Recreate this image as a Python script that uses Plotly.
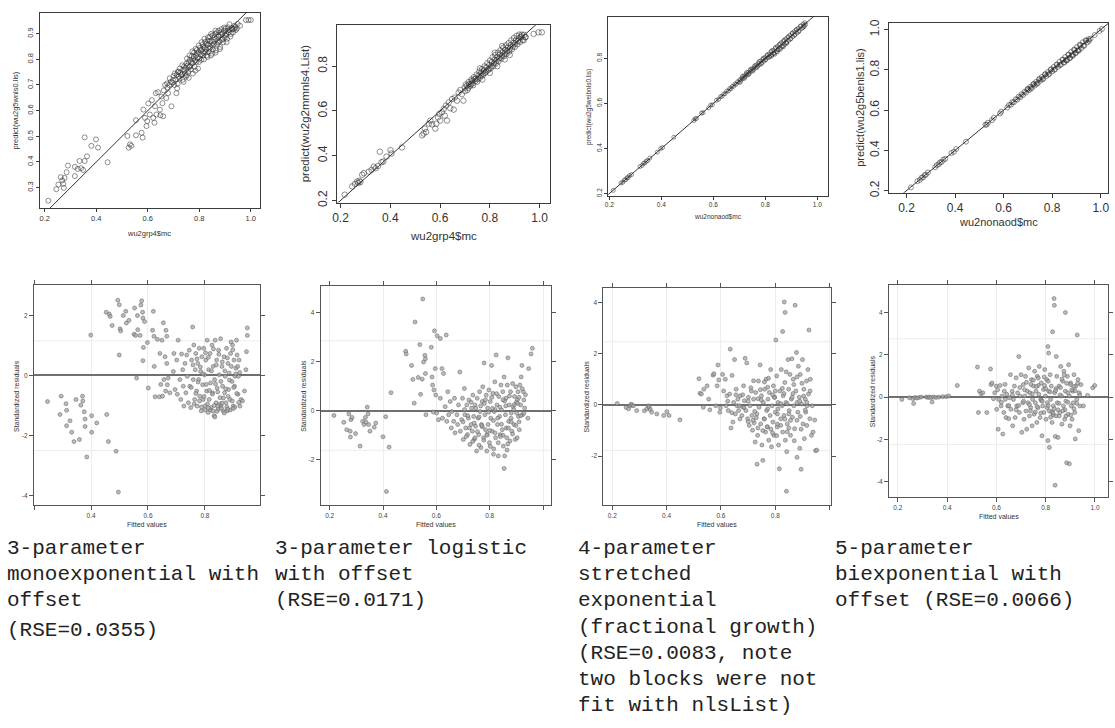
import plotly.graph_objects as go

# ---------------- observed vs predicted (top row) ----------------
p1_obs = [0.214, 0.245, 0.253, 0.262, 0.268, 0.272, 0.274, 0.277, 0.285, 0.290,
          0.317, 0.317, 0.328, 0.335, 0.341, 0.349, 0.355, 0.355, 0.364, 0.381,
          0.399, 0.407, 0.444,
          0.521, 0.526, 0.531, 0.536, 0.554, 0.554, 0.576, 0.580, 0.583, 0.589,
          0.595, 0.598, 0.602, 0.608, 0.616, 0.621, 0.626, 0.628, 0.631, 0.634,
          0.640, 0.647, 0.649, 0.653, 0.657, 0.660, 0.662, 0.667, 0.672, 0.675,
          0.679, 0.685, 0.692, 0.698, 0.705, 0.711, 0.714, 0.717, 0.724, 0.730,
          0.734, 0.739, 0.743, 0.750, 0.752, 0.757, 0.762, 0.765, 0.769, 0.773,
          0.775, 0.779, 0.782, 0.786, 0.788, 0.792, 0.795, 0.798, 0.801, 0.806,
          0.809, 0.814, 0.816, 0.820, 0.824, 0.827, 0.832, 0.834, 0.839, 0.842,
          0.846, 0.850, 0.852, 0.859, 0.863, 0.865, 0.872, 0.875, 0.881, 0.884,
          0.891, 0.897, 0.901, 0.906, 0.910, 0.917, 0.923, 0.929, 0.936, 0.942,
          0.949, 0.958, 0.981, 0.991, 1.000,
          0.720, 0.726, 0.733, 0.737, 0.741, 0.746, 0.748, 0.754, 0.758, 0.761,
          0.764, 0.767, 0.771, 0.774, 0.777, 0.780, 0.783, 0.785, 0.787, 0.790,
          0.793, 0.796, 0.799, 0.803, 0.805, 0.808, 0.811, 0.813, 0.816, 0.818,
          0.821, 0.823, 0.826, 0.829, 0.831, 0.833, 0.836, 0.838, 0.841, 0.843,
          0.845, 0.848, 0.851, 0.853, 0.856, 0.858, 0.861, 0.863, 0.866, 0.868,
          0.870, 0.873, 0.876, 0.878, 0.880, 0.883, 0.886, 0.888, 0.890, 0.893,
          0.896, 0.899, 0.902, 0.905, 0.908, 0.911, 0.914, 0.918, 0.921, 0.926,
          0.931, 0.935, 0.940, 0.946,
          0.676, 0.683, 0.689, 0.695, 0.700, 0.703, 0.708, 0.712, 0.716, 0.719,
          0.723, 0.735, 0.744, 0.752, 0.759]
p1_pred = [0.249, 0.294, 0.312, 0.341, 0.328, 0.315, 0.299, 0.338, 0.360, 0.386,
           0.345, 0.381, 0.373, 0.404, 0.376, 0.369, 0.496, 0.404, 0.422, 0.463,
           0.488, 0.456, 0.399,
           0.501, 0.456, 0.469, 0.463, 0.563, 0.504, 0.514, 0.495, 0.604, 0.572,
           0.540, 0.559, 0.628, 0.585, 0.641, 0.572, 0.553, 0.617, 0.668, 0.585,
           0.672, 0.604, 0.582, 0.655, 0.629, 0.578, 0.679, 0.700, 0.649, 0.706,
           0.668, 0.726, 0.617, 0.720, 0.745, 0.668, 0.687, 0.751, 0.764, 0.738,
           0.777, 0.712, 0.758, 0.783, 0.803, 0.751, 0.815, 0.773, 0.790, 0.831,
           0.745, 0.810, 0.771, 0.841, 0.790, 0.822, 0.764, 0.854, 0.803, 0.835,
           0.867, 0.815, 0.848, 0.880, 0.828, 0.861, 0.809, 0.886, 0.841, 0.871,
           0.899, 0.822, 0.854, 0.886, 0.912, 0.835, 0.867, 0.893, 0.848, 0.905,
           0.880, 0.924, 0.893, 0.867, 0.912, 0.937, 0.899, 0.918, 0.931, 0.914,
           0.938, 0.931, 0.953, 0.953, 0.953,
           0.733, 0.748, 0.741, 0.760, 0.772, 0.767, 0.733, 0.776, 0.790, 0.770,
           0.798, 0.760, 0.812, 0.785, 0.801, 0.827, 0.795, 0.756, 0.815, 0.836,
           0.806, 0.828, 0.790, 0.845, 0.820, 0.798, 0.838, 0.858, 0.826, 0.800,
           0.846, 0.868, 0.838, 0.815, 0.856, 0.874, 0.829, 0.860, 0.888, 0.846,
           0.815, 0.870, 0.893, 0.838, 0.876, 0.860, 0.899, 0.826, 0.880, 0.905,
           0.858, 0.889, 0.912, 0.870, 0.840, 0.896, 0.918, 0.876, 0.900, 0.866,
           0.912, 0.885, 0.920, 0.899, 0.880, 0.925, 0.905, 0.915, 0.889, 0.922,
           0.905, 0.918, 0.925, 0.920,
           0.690, 0.700, 0.712, 0.710, 0.735, 0.700, 0.722, 0.740, 0.705, 0.752,
           0.725, 0.720, 0.745, 0.738, 0.728]

p2_obs = [0.217, 0.247, 0.258, 0.267, 0.271, 0.276, 0.280, 0.287, 0.294, 0.314,
          0.325, 0.334, 0.341, 0.351, 0.358, 0.365, 0.372, 0.385, 0.401, 0.405,
          0.447, 0.528, 0.534, 0.539, 0.544, 0.555, 0.561, 0.568, 0.581, 0.585,
          0.592, 0.597, 0.601, 0.608, 0.615, 0.619, 0.624, 0.628, 0.635, 0.641,
          0.648, 0.655, 0.659, 0.668, 0.675, 0.682, 0.688, 0.694, 0.699, 0.704,
          0.710, 0.715, 0.722, 0.726, 0.731, 0.736, 0.742, 0.747, 0.752, 0.758,
          0.763, 0.769, 0.774, 0.779, 0.785, 0.790, 0.795, 0.801, 0.806, 0.811,
          0.817, 0.822, 0.827, 0.833, 0.838, 0.843, 0.849, 0.854, 0.860, 0.865,
          0.870, 0.876, 0.881, 0.886, 0.892, 0.897, 0.902, 0.908, 0.913, 0.918,
          0.924, 0.929, 0.936, 0.942, 0.976, 0.996, 1.009,
          0.701, 0.708, 0.713, 0.717, 0.724, 0.728, 0.733, 0.738, 0.744, 0.749,
          0.755, 0.760, 0.766, 0.771, 0.776, 0.781, 0.787, 0.792, 0.798, 0.803,
          0.808, 0.814, 0.819, 0.824, 0.830, 0.835, 0.840, 0.846, 0.851, 0.857,
          0.862, 0.867, 0.873, 0.878, 0.884, 0.889, 0.895, 0.900, 0.905, 0.911,
          0.916, 0.921, 0.927, 0.932, 0.938, 0.944, 0.770, 0.800, 0.830, 0.860,
          0.880, 0.760, 0.820, 0.850]
p2_pred = [0.226, 0.263, 0.274, 0.285, 0.278, 0.288, 0.282, 0.315, 0.322, 0.329,
           0.337, 0.351, 0.344, 0.354, 0.418, 0.371, 0.374, 0.396, 0.425, 0.410,
           0.437, 0.491, 0.499, 0.521, 0.506, 0.543, 0.557, 0.540, 0.521, 0.543,
           0.571, 0.587, 0.557, 0.594, 0.609, 0.579, 0.624, 0.557, 0.638, 0.612,
           0.653, 0.606, 0.660, 0.646, 0.682, 0.694, 0.675, 0.646, 0.704, 0.718,
           0.694, 0.729, 0.712, 0.740, 0.724, 0.751, 0.734, 0.762, 0.743, 0.776,
           0.757, 0.787, 0.766, 0.799, 0.776, 0.813, 0.787, 0.825, 0.799, 0.840,
           0.813, 0.850, 0.825, 0.860, 0.835, 0.871, 0.846, 0.882, 0.857, 0.893,
           0.868, 0.903, 0.879, 0.915, 0.888, 0.926, 0.900, 0.935, 0.912, 0.941,
           0.929, 0.941, 0.915, 0.929, 0.944, 0.951, 0.951,
           0.689, 0.712, 0.703, 0.720, 0.719, 0.733, 0.715, 0.742, 0.745, 0.731,
           0.758, 0.748, 0.771, 0.759, 0.782, 0.770, 0.795, 0.781, 0.806, 0.790,
           0.818, 0.800, 0.829, 0.812, 0.841, 0.822, 0.852, 0.835, 0.862, 0.845,
           0.873, 0.855, 0.884, 0.866, 0.893, 0.875, 0.904, 0.886, 0.915, 0.898,
           0.925, 0.908, 0.933, 0.918, 0.940, 0.930, 0.740, 0.770, 0.800, 0.830,
           0.850, 0.790, 0.860, 0.890]

p3_obs = [0.215, 0.245, 0.252, 0.258, 0.263, 0.268, 0.272, 0.278, 0.285, 0.318,
          0.326, 0.332, 0.337, 0.342, 0.348, 0.356, 0.385, 0.398, 0.405, 0.448,
          0.525, 0.530, 0.535, 0.555, 0.560, 0.582, 0.590, 0.596, 0.612, 0.620,
          0.628, 0.633, 0.640, 0.645, 0.652, 0.658, 0.663, 0.668, 0.672, 0.678,
          0.683, 0.688, 0.693, 0.698, 0.702, 0.706, 0.710, 0.714, 0.718, 0.722,
          0.726, 0.730, 0.734, 0.738, 0.742, 0.746, 0.750, 0.754, 0.758, 0.762,
          0.766, 0.770, 0.774, 0.778, 0.782, 0.786, 0.790, 0.794, 0.798, 0.802,
          0.806, 0.810, 0.814, 0.818, 0.822, 0.826, 0.830, 0.834, 0.838, 0.842,
          0.846, 0.850, 0.854, 0.858, 0.862, 0.866, 0.870, 0.874, 0.878, 0.882,
          0.886, 0.890, 0.894, 0.898, 0.902, 0.906, 0.910, 0.914, 0.918, 0.922,
          0.926, 0.930, 0.935, 0.940, 0.945, 0.950,
          0.704, 0.712, 0.720, 0.728, 0.736, 0.744, 0.752, 0.760, 0.768, 0.776,
          0.784, 0.792, 0.800, 0.808, 0.816, 0.824, 0.832, 0.840, 0.848, 0.856,
          0.864, 0.872, 0.880, 0.888, 0.896, 0.904, 0.912, 0.920, 0.928, 0.936,
          0.944, 0.952, 0.955, 0.948, 0.824, 0.836, 0.846, 0.858, 0.870, 0.882]
p3_pred = [0.214, 0.247, 0.250, 0.260, 0.262, 0.270, 0.271, 0.280, 0.284, 0.320,
           0.325, 0.334, 0.336, 0.344, 0.347, 0.358, 0.384, 0.400, 0.404, 0.450,
           0.524, 0.532, 0.533, 0.557, 0.559, 0.580, 0.592, 0.594, 0.614, 0.618,
           0.630, 0.631, 0.642, 0.643, 0.655, 0.655, 0.666, 0.665, 0.675, 0.676,
           0.686, 0.685, 0.696, 0.694, 0.705, 0.703, 0.713, 0.710, 0.722, 0.718,
           0.730, 0.726, 0.738, 0.733, 0.747, 0.742, 0.754, 0.750, 0.763, 0.757,
           0.771, 0.765, 0.779, 0.772, 0.788, 0.779, 0.796, 0.787, 0.803, 0.795,
           0.812, 0.803, 0.819, 0.810, 0.829, 0.816, 0.836, 0.823, 0.845, 0.830,
           0.853, 0.838, 0.861, 0.846, 0.870, 0.853, 0.877, 0.862, 0.886, 0.870,
           0.893, 0.879, 0.902, 0.887, 0.910, 0.896, 0.918, 0.905, 0.925, 0.913,
           0.933, 0.922, 0.942, 0.932, 0.952, 0.945,
           0.694, 0.720, 0.712, 0.737, 0.728, 0.752, 0.744, 0.768, 0.760, 0.786,
           0.776, 0.801, 0.792, 0.816, 0.806, 0.833, 0.822, 0.848, 0.838, 0.864,
           0.853, 0.880, 0.870, 0.896, 0.885, 0.912, 0.902, 0.928, 0.918, 0.944,
           0.936, 0.958, 0.950, 0.940, 0.810, 0.818, 0.828, 0.840, 0.852, 0.866]

p4_obs = [0.218, 0.245, 0.255, 0.262, 0.268, 0.275, 0.280, 0.288, 0.318, 0.325,
          0.333, 0.338, 0.345, 0.352, 0.360, 0.385, 0.395, 0.405, 0.445, 0.525,
          0.530, 0.535, 0.552, 0.560, 0.585, 0.590, 0.615, 0.622, 0.630, 0.636,
          0.642, 0.650, 0.656, 0.662, 0.668, 0.674, 0.680, 0.686, 0.692, 0.698,
          0.704, 0.710, 0.716, 0.722, 0.728, 0.734, 0.740, 0.746, 0.752, 0.758,
          0.764, 0.770, 0.776, 0.782, 0.788, 0.794, 0.800, 0.806, 0.812, 0.818,
          0.824, 0.830, 0.836, 0.842, 0.848, 0.854, 0.860, 0.866, 0.872, 0.878,
          0.884, 0.890, 0.896, 0.902, 0.908, 0.914, 0.920, 0.926, 0.932, 0.938,
          0.944, 0.950, 0.958, 0.975, 0.995, 1.005,
          0.700, 0.712, 0.724, 0.736, 0.748, 0.760, 0.772, 0.784, 0.796, 0.808,
          0.820, 0.832, 0.844, 0.856, 0.868, 0.880, 0.892, 0.904, 0.916, 0.928,
          0.940, 0.952, 0.850, 0.862, 0.874, 0.886, 0.898, 0.910]
p4_pred = [0.216, 0.247, 0.253, 0.264, 0.266, 0.277, 0.279, 0.290, 0.316, 0.327,
           0.331, 0.340, 0.343, 0.354, 0.358, 0.387, 0.393, 0.407, 0.443, 0.527,
           0.528, 0.537, 0.550, 0.562, 0.583, 0.592, 0.613, 0.625, 0.627, 0.640,
           0.639, 0.654, 0.652, 0.667, 0.664, 0.679, 0.675, 0.691, 0.687, 0.703,
           0.699, 0.716, 0.711, 0.728, 0.722, 0.740, 0.734, 0.753, 0.746, 0.765,
           0.757, 0.777, 0.769, 0.789, 0.780, 0.801, 0.792, 0.814, 0.803, 0.826,
           0.815, 0.839, 0.826, 0.851, 0.836, 0.864, 0.846, 0.876, 0.858, 0.889,
           0.870, 0.901, 0.882, 0.913, 0.895, 0.925, 0.908, 0.937, 0.920, 0.946,
           0.936, 0.952, 0.955, 0.973, 0.993, 1.003,
           0.706, 0.706, 0.730, 0.730, 0.755, 0.753, 0.779, 0.777, 0.803, 0.800,
           0.826, 0.824, 0.850, 0.848, 0.875, 0.872, 0.898, 0.896, 0.922, 0.920,
           0.946, 0.944, 0.838, 0.850, 0.860, 0.874, 0.886, 0.898]

# 1:1 reference line (observed == predicted)
identity_line = [0.0, 1.2]

# ---------------- standardized residuals vs fitted (bottom row) ----------------
p5_fit = [0.247, 0.295, 0.291, 0.312, 0.314, 0.314, 0.326, 0.332, 0.340, 0.347,
          0.359, 0.364, 0.370, 0.371, 0.376, 0.379, 0.379, 0.385, 0.399, 0.402,
          0.402, 0.420, 0.453, 0.455, 0.461, 0.464, 0.467, 0.474, 0.488, 0.494,
          0.496, 0.499, 0.499, 0.502, 0.504, 0.513, 0.522, 0.524, 0.533, 0.551,
          0.553, 0.556, 0.560, 0.563, 0.564, 0.572, 0.575, 0.578, 0.581, 0.582,
          0.582, 0.584, 0.588, 0.598, 0.601, 0.616, 0.619, 0.621, 0.622, 0.625,
          0.633, 0.640, 0.642, 0.645, 0.649, 0.651, 0.654, 0.656, 0.660, 0.662,
          0.663, 0.666, 0.666, 0.668, 0.671, 0.677, 0.689, 0.691, 0.695, 0.701,
          0.703, 0.706, 0.712, 0.715, 0.718, 0.722, 0.724, 0.726, 0.730, 0.733,
          0.736, 0.738, 0.742, 0.745, 0.747, 0.750, 0.753, 0.757, 0.759, 0.761,
          0.764, 0.766, 0.768, 0.771, 0.773, 0.775, 0.778, 0.780, 0.782, 0.785,
          0.787, 0.789, 0.792, 0.794, 0.796, 0.799, 0.801, 0.803, 0.806, 0.808,
          0.811, 0.813, 0.815, 0.818, 0.820, 0.822, 0.825, 0.827, 0.829, 0.832,
          0.834, 0.836, 0.839, 0.841, 0.843, 0.846, 0.848, 0.850, 0.853, 0.855,
          0.857, 0.860, 0.862, 0.864, 0.867, 0.869, 0.871, 0.874, 0.876, 0.878,
          0.881, 0.883, 0.885, 0.888, 0.890, 0.892, 0.895, 0.897, 0.899, 0.902,
          0.904, 0.906, 0.909, 0.911, 0.913, 0.916, 0.918, 0.920, 0.923, 0.927,
          0.932, 0.939, 0.944, 0.946, 0.949, 0.949,
          0.752, 0.758, 0.762, 0.768, 0.772, 0.776, 0.781, 0.784, 0.788, 0.793,
          0.797, 0.802, 0.805, 0.809, 0.812, 0.816, 0.819, 0.823, 0.826, 0.830,
          0.833, 0.837, 0.840, 0.842, 0.845, 0.849, 0.852, 0.856, 0.858, 0.861,
          0.865, 0.868, 0.870, 0.873, 0.877, 0.879, 0.882, 0.886, 0.889, 0.893,
          0.896, 0.898, 0.901, 0.905, 0.908, 0.912, 0.915, 0.919, 0.922, 0.835,
          0.845, 0.860, 0.880, 0.900, 0.828, 0.812, 0.800]
p5_res = [-0.87, -0.69, -1.30, -0.94, -1.16, -1.67, -1.51, -1.89, -2.20, -0.80,
          -2.13, -0.99, -0.69, -0.85, -1.21, -1.45, -1.70, -2.71, 1.34, -1.34,
          -1.89, -1.58, 2.10, -1.30, -2.20, 2.04, 1.96, 1.66, -2.52, 2.50,
          -3.88, 2.35, 0.68, 1.55, 1.48, 1.99, 2.13, 1.74, 1.83, 1.37,
          2.24, 1.33, -0.09, 1.99, 1.52, 1.33, 2.34, 2.48, 2.10, 1.91,
          0.49, 0.93, 1.79, 1.09, -0.42, 1.50, 2.13, 1.30, 0.30, -0.71,
          1.20, -0.71, 0.73, -0.30, 1.17, -0.69, 1.75, -0.14, 0.62, -0.52,
          1.50, 1.30, 0.40, -0.31, -0.09, -0.58, 0.13, 0.73, -0.47, 0.51,
          -0.63, 1.17, -0.14, -0.80, 0.71, 0.19, -0.36, -1.02, 0.40, -0.58,
          0.68, -0.03, -0.91, 0.84, -0.36, -1.07, 0.51, 1.61, -0.14, 1.01,
          -0.80, 0.19, 0.73, -0.52, -1.02, 0.40, -0.14, 0.90, -0.69, 0.13,
          -1.18, 0.62, -0.31, -0.80, 0.90, 0.02, -1.02, 0.51, -0.52, 1.17,
          -1.23, 0.19, -0.80, 0.73, -0.25, -1.07, 1.01, -0.58, 0.30, -1.34,
          -0.14, 1.17, -0.91, 0.51, -0.42, -1.13, 0.84, 0.02, -0.74, 1.22,
          -1.02, 0.30, -0.36, -1.18, 0.62, -0.58, -0.03, -0.91, 0.90, -1.18,
          0.40, -0.47, 0.08, -0.80, 0.73, 1.11, -0.20, 1.01, -1.02, 0.51,
          -0.36, -0.03, 0.24, 1.17, 0.68, -0.63, -0.03, 0.51, -1.02, -0.80,
          -0.85, -0.52, 0.19, 0.79, 1.58, 1.33,
          -0.40, 0.35, -0.95, -0.60, 0.55, -0.22, -0.85, 0.28, -1.05, 0.05,
          -0.70, 0.75, -0.30, -0.95, 0.60, -0.50, -1.15, 0.15, -0.62, 0.88,
          -1.00, -0.28, 0.35, -1.20, -0.55, 0.70, -0.95, -0.20, -1.10, 0.45,
          -0.75, -1.25, 0.15, -0.45, -1.05, 0.58, -0.70, -0.15, -1.15, 0.30,
          -0.85, 0.85, -0.40, -1.05, 0.05, -0.60, 0.30, -0.90, 0.10, -1.38,
          -1.02, -0.92, -1.12, -1.10, -1.18, -1.08, -1.15]

p6_fit = [0.216, 0.253, 0.264, 0.272, 0.277, 0.278, 0.280, 0.284, 0.297, 0.314,
          0.324, 0.329, 0.334, 0.336, 0.341, 0.344, 0.346, 0.351, 0.367, 0.373,
          0.400, 0.410, 0.413, 0.423, 0.430, 0.485, 0.487, 0.507, 0.512, 0.517,
          0.520, 0.532, 0.538, 0.541, 0.547, 0.549, 0.552, 0.557, 0.559, 0.559,
          0.561, 0.581, 0.584, 0.586, 0.589, 0.591, 0.593, 0.596, 0.598, 0.601,
          0.603, 0.608, 0.615, 0.615, 0.621, 0.623, 0.627, 0.633, 0.637, 0.639,
          0.643, 0.646, 0.652, 0.656, 0.658, 0.665, 0.668, 0.670, 0.677, 0.680,
          0.683, 0.688, 0.690, 0.695, 0.698, 0.701, 0.705, 0.707, 0.710, 0.714,
          0.717, 0.720, 0.722, 0.726, 0.730, 0.732, 0.735, 0.737, 0.740, 0.742,
          0.745, 0.747, 0.751, 0.753, 0.757, 0.759, 0.762, 0.764, 0.767, 0.769,
          0.772, 0.774, 0.777, 0.779, 0.782, 0.784, 0.787, 0.789, 0.792, 0.794,
          0.797, 0.799, 0.802, 0.804, 0.807, 0.809, 0.812, 0.814, 0.817, 0.819,
          0.822, 0.824, 0.827, 0.829, 0.832, 0.834, 0.837, 0.839, 0.842, 0.844,
          0.847, 0.849, 0.851, 0.854, 0.854, 0.856, 0.859, 0.861, 0.864, 0.866,
          0.868, 0.871, 0.873, 0.876, 0.878, 0.881, 0.883, 0.886, 0.888, 0.891,
          0.893, 0.896, 0.898, 0.901, 0.903, 0.906, 0.908, 0.911, 0.913, 0.916,
          0.918, 0.921, 0.923, 0.926, 0.928, 0.931, 0.943, 0.946, 0.955, 0.960,
          0.700, 0.706, 0.712, 0.718, 0.724, 0.730, 0.736, 0.742, 0.748, 0.754,
          0.760, 0.766, 0.772, 0.778, 0.784, 0.790, 0.796, 0.802, 0.808, 0.814,
          0.820, 0.826, 0.832, 0.838, 0.844, 0.850, 0.856, 0.862, 0.868, 0.874,
          0.880, 0.886, 0.892, 0.898, 0.904, 0.910, 0.916, 0.922, 0.928, 0.934,
          0.760, 0.780, 0.800, 0.820, 0.840, 0.860, 0.880, 0.900, 0.770, 0.790,
          0.810, 0.830, 0.850, 0.870, 0.890, 0.910, 0.745, 0.815, 0.865, 0.905]
p6_res = [-0.19, -0.47, -0.77, -0.13, -0.83, -1.07, -0.36, -0.27, -0.93, -1.44,
          -0.43, -0.56, -0.27, -0.46, 0.15, -0.13, -0.56, -0.83, -0.67, -0.50,
          -1.06, -0.24, -3.29, -1.48, 0.74, 2.43, 2.32, 1.85, 1.28, 0.31,
          3.62, 1.36, 2.70, 0.67, 1.29, 4.56, 1.99, 2.26, 2.12, 1.52,
          -0.16, 2.59, 1.38, 1.05, -0.05, 0.85, 3.26, 1.72, 0.64, -0.09,
          3.06, -0.36, 2.95, 0.51, 1.72, -0.30, 1.52, 0.17, 3.09, -0.43,
          0.78, -0.16, 0.38, -0.70, -0.03, -0.43, 0.51, -0.90, -0.16, -0.56,
          0.24, 1.58, -0.83, -0.36, 0.51, -1.17, 0.91, -0.16, -0.70, 0.24,
          -0.97, -0.30, 0.44, -1.37, -0.56, 0.11, -0.83, 0.64, -0.23, -1.17,
          0.24, -0.63, -1.64, 0.51, -0.30, -0.97, 0.78, -0.03, -1.50, -0.56,
          0.38, 0.98, -1.10, 1.95, -0.16, -0.77, 0.64, -1.64, 0.11, -0.56,
          0.85, -1.30, 0.38, -0.30, 1.85, -0.83, 0.71, -1.77, -0.03, 1.18,
          -1.10, 2.28, 0.24, -0.56, -1.84, 0.58, -0.23, -0.97, 1.05, 0.04,
          -0.77, 0.78, -1.44, 1.38, -2.35, -1.84, -0.16, 0.51, -1.10, 1.05,
          2.16, -0.43, 0.24, -1.23, 0.78, -0.09, -0.83, 1.11, 0.17, -0.56,
          0.58, -1.17, 0.98, -0.09, -1.10, 0.78, -0.23, -0.77, 1.05, 0.24,
          1.38, 1.85, -0.16, 0.78, 0.44, 0.11, -0.30, 1.72, 2.32, 2.55,
          -0.45, 0.05, -1.05, -0.20, -0.70, 0.35, -1.25, -0.50, 0.10, -0.85,
          -1.40, 0.20, -0.65, -1.20, 0.45, -0.95, -0.05, -1.45, 0.55, -0.40,
          -0.90, 0.70, -1.30, 0.15, -0.55, -1.00, 0.40, -0.70, -1.35, 0.60,
          -0.30, -0.95, 0.25, -0.60, 0.45, -0.45, -0.20, 0.90, -0.10, 0.65,
          -0.25, 0.30, -0.80, 0.05, -1.05, 0.20, -0.45, 0.35, -0.60, -1.00,
          0.10, -0.30, 0.45, -0.70, 0.05, 0.55, -1.10, -1.55, -1.60, 0.30]

p7_fit = [0.218, 0.251, 0.260, 0.266, 0.269, 0.273, 0.278, 0.290, 0.318, 0.328,
          0.333, 0.336, 0.340, 0.345, 0.364, 0.389, 0.401, 0.409, 0.449, 0.519,
          0.523, 0.528, 0.535, 0.537, 0.549, 0.555, 0.559, 0.571, 0.574, 0.581,
          0.586, 0.589, 0.592, 0.596, 0.598, 0.606, 0.610, 0.616, 0.619, 0.622,
          0.627, 0.632, 0.634, 0.637, 0.641, 0.644, 0.647, 0.650, 0.653, 0.656,
          0.659, 0.662, 0.665, 0.668, 0.671, 0.677, 0.681, 0.683, 0.686, 0.689,
          0.692, 0.695, 0.698, 0.701, 0.704, 0.707, 0.710, 0.714, 0.716, 0.720,
          0.722, 0.726, 0.728, 0.732, 0.733, 0.735, 0.738, 0.740, 0.744, 0.746,
          0.749, 0.751, 0.754, 0.756, 0.759, 0.761, 0.764, 0.766, 0.768, 0.771,
          0.773, 0.776, 0.778, 0.781, 0.783, 0.786, 0.788, 0.791, 0.793, 0.795,
          0.798, 0.800, 0.802, 0.805, 0.807, 0.810, 0.812, 0.815, 0.817, 0.820,
          0.822, 0.825, 0.827, 0.827, 0.829, 0.832, 0.833, 0.835, 0.836, 0.837,
          0.839, 0.841, 0.842, 0.844, 0.847, 0.849, 0.851, 0.854, 0.856, 0.859,
          0.861, 0.863, 0.866, 0.868, 0.871, 0.873, 0.876, 0.878, 0.880, 0.883,
          0.885, 0.888, 0.890, 0.892, 0.895, 0.897, 0.900, 0.902, 0.905, 0.907,
          0.910, 0.912, 0.915, 0.917, 0.920, 0.922, 0.924, 0.927, 0.929, 0.933,
          0.936, 0.939, 0.945, 0.948, 0.953,
          0.625, 0.640, 0.655, 0.670, 0.685, 0.700, 0.712, 0.724, 0.736, 0.748,
          0.760, 0.772, 0.784, 0.796, 0.808, 0.820, 0.832, 0.844, 0.856, 0.868,
          0.880, 0.892, 0.904, 0.916, 0.928, 0.700, 0.718, 0.736, 0.754, 0.772,
          0.790, 0.808, 0.826, 0.844, 0.862, 0.880, 0.898, 0.916, 0.760, 0.790,
          0.820, 0.850, 0.880, 0.910, 0.745, 0.775, 0.805, 0.835, 0.865, 0.895,
          0.730, 0.770, 0.810, 0.850, 0.890, 0.680, 0.720, 0.800, 0.840, 0.870]
p7_res = [0.06, -0.10, -0.15, -0.03, 0.03, 0.00, -0.03, -0.22, -0.23, -0.15,
          -0.03, -0.09, -0.18, -0.28, -0.35, -0.41, -0.26, -0.41, -0.58, 1.03,
          0.46, 0.43, -0.09, 0.62, 0.75, 0.23, -0.19, 1.17, 1.23, -0.03,
          0.75, 1.57, 0.98, -0.28, -0.12, 1.20, 0.55, 1.01, -0.03, 0.36,
          -0.22, 0.43, 2.19, -0.90, 1.16, -0.67, 0.10, 1.78, -0.35, 0.62,
          -0.03, 0.23, -0.22, -0.03, 0.36, -0.41, -0.09, 0.75, 0.17, 1.83,
          -0.22, 1.65, -0.54, 0.30, -0.80, -0.03, 0.68, -0.41, -0.99, 0.23,
          -0.70, -1.45, 0.49, -0.35, -2.32, -1.19, 0.94, -0.09, 1.57, -0.74,
          0.36, -1.57, -2.17, 0.10, -0.54, 0.62, -1.06, 1.01, -0.22, -0.86,
          0.23, -1.38, 0.49, -0.41, 1.39, -1.64, -0.03, -0.67, 0.75, -1.19,
          0.30, -0.28, 2.55, 1.14, -0.86, 0.10, -1.57, -2.50, 0.55, -0.54,
          1.39, -0.03, -1.06, 2.88, 0.36, -0.41, 4.04, 0.88, 3.63, -1.38,
          0.10, -3.38, -1.83, -0.74, 1.78, 0.62, -0.22, 1.20, -1.19, 0.23,
          1.81, -0.48, 1.01, -0.03, -0.93, 3.91, 0.55, 2.06, -2.05, -0.28,
          1.52, 0.30, -1.70, 1.20, -2.52, 0.04, 1.78, -0.74, 0.62, -1.32,
          0.23, -0.28, 0.94, -0.03, 1.39, 0.43, 2.94, -0.54, 1.01, -1.19,
          -0.03, -1.06, -0.59, -1.79, -1.77,
          0.15, -0.30, 0.40, -0.55, -0.10, -0.65, 0.55, -0.25, -0.90, 0.20,
          -0.55, 0.70, -0.95, 0.30, -0.35, -0.80, 0.45, 0.05, -0.60, 0.80,
          0.10, -0.45, 0.35, -0.80, 0.55, 0.15, -0.60, 0.25, -1.00, -0.15,
          0.40, -0.75, 0.65, -1.05, 0.30, -0.60, 0.85, 0.10, 0.90, -1.10,
          0.05, -0.35, 1.10, -0.20, 0.60, 1.05, -1.20, -0.55, 0.45, -0.95,
          -0.50, -0.85, -0.15, -0.90, 0.15, 0.40, 0.95, 0.55, 1.30, -1.40]

p8_fit = [0.216, 0.247, 0.261, 0.264, 0.269, 0.277, 0.285, 0.295, 0.315, 0.323,
          0.328, 0.335, 0.339, 0.345, 0.355, 0.366, 0.382, 0.396, 0.407, 0.441,
          0.523, 0.527, 0.531, 0.538, 0.545, 0.561, 0.576, 0.578, 0.582, 0.588,
          0.593, 0.599, 0.601, 0.607, 0.609, 0.615, 0.619, 0.623, 0.626, 0.630,
          0.632, 0.636, 0.639, 0.642, 0.646, 0.650, 0.653, 0.657, 0.659, 0.664,
          0.666, 0.669, 0.673, 0.676, 0.680, 0.682, 0.686, 0.691, 0.693, 0.696,
          0.700, 0.703, 0.707, 0.709, 0.712, 0.715, 0.718, 0.720, 0.723, 0.726,
          0.728, 0.731, 0.734, 0.736, 0.739, 0.742, 0.745, 0.747, 0.750, 0.753,
          0.755, 0.758, 0.761, 0.764, 0.766, 0.769, 0.772, 0.774, 0.777, 0.780,
          0.782, 0.785, 0.788, 0.791, 0.793, 0.796, 0.799, 0.801, 0.804, 0.807,
          0.809, 0.809, 0.812, 0.812, 0.815, 0.815, 0.818, 0.820, 0.823, 0.826,
          0.828, 0.831, 0.834, 0.835, 0.836, 0.838, 0.839, 0.842, 0.843, 0.845,
          0.847, 0.850, 0.854, 0.857, 0.861, 0.864, 0.866, 0.869, 0.872, 0.874,
          0.877, 0.880, 0.880, 0.882, 0.885, 0.888, 0.891, 0.893, 0.896, 0.896,
          0.899, 0.901, 0.904, 0.907, 0.909, 0.912, 0.915, 0.918, 0.920, 0.923,
          0.926, 0.928, 0.931, 0.934, 0.936, 0.939, 0.943, 0.953, 0.970, 0.991,
          0.999,
          0.605, 0.620, 0.635, 0.650, 0.665, 0.680, 0.695, 0.710, 0.722, 0.734,
          0.746, 0.758, 0.770, 0.782, 0.794, 0.806, 0.818, 0.830, 0.842, 0.854,
          0.866, 0.878, 0.890, 0.902, 0.914, 0.926, 0.938, 0.690, 0.714, 0.738,
          0.762, 0.786, 0.810, 0.834, 0.858, 0.882, 0.906, 0.930, 0.750, 0.780,
          0.810, 0.840, 0.870, 0.900, 0.765, 0.795, 0.825, 0.855, 0.885, 0.915,
          0.740, 0.770, 0.800, 0.830, 0.860, 0.890, 0.920, 0.850, 0.820, 0.875]
p8_res = [-0.11, -0.03, -0.08, -0.30, -0.02, -0.05, -0.02, 0.00, 0.00, -0.02,
          0.00, -0.02, -0.23, 0.00, -0.02, 0.00, 0.02, 0.02, 0.05, 0.55,
          1.42, -0.73, 0.28, 0.16, 0.20, -0.73, 1.33, 0.59, 0.67, -0.08,
          0.20, 0.52, -0.58, -1.52, -0.11, 0.55, -0.42, 0.05, -1.75, -0.73,
          0.28, -0.11, -0.97, 0.13, -0.42, -1.02, -0.03, 1.06, -0.58, 0.28,
          -1.36, -0.11, 0.52, -0.97, 0.91, -0.42, 0.20, 1.92, -0.73, 0.05,
          1.06, -1.67, -0.27, 0.59, -1.05, 0.05, 0.98, -0.66, -1.52, 0.28,
          -0.27, 1.38, -0.89, 0.20, -0.50, 0.83, -1.36, -0.11, 0.52, -0.81,
          1.22, -0.27, 0.28, -1.20, 0.98, -0.50, 0.13, 1.45, -0.97, -0.11,
          0.67, -1.83, -0.42, 0.36, -0.73, 1.30, 0.05, -1.05, 0.83, -0.27,
          -2.06, 2.39, 0.28, 2.08, -2.38, -0.66, 1.06, -0.11, 0.52, -1.20,
          3.09, -0.42, 4.66, 4.34, 0.20, -4.17, -1.86, -0.89, 1.92, 0.98,
          -0.27, -1.91, 0.52, -0.73, 1.45, 0.05, -1.28, 0.75, -0.42, 1.22,
          -1.05, 4.00, 0.28, -0.19, -3.11, 0.98, -0.81, 1.53, -3.16, 0.05,
          -1.36, 0.67, -0.42, -1.05, 0.28, -0.27, 1.06, -0.73, -1.98, 0.52,
          -0.11, 2.94, 0.83, -1.59, 0.20, -0.42, 0.59, -0.42, 0.08, 0.44,
          0.55,
          0.35, -0.25, 0.60, -0.40, 0.10, -0.60, 0.45, -0.20, 0.70, -0.35,
          0.15, -0.70, 0.55, -0.15, 0.95, -0.50, 0.25, -0.85, 0.40, -0.30,
          0.85, -0.60, 0.20, -0.85, 0.50, -0.30, 0.10, -0.40, 0.35, -0.65,
          0.50, -0.20, 0.75, -0.55, 0.10, -0.90, 0.35, 0.65, 0.80, -0.75,
          -0.40, 0.30, -0.65, 0.60, -0.45, 0.55, -0.70, -0.90, 0.65, -0.55,
          0.60, 0.90, 0.40, -0.75, 0.45, -0.25, 0.30, -0.60, -0.95, 1.05]

# reference lines drawn across each residual panel
p5_bands = [1.15, -2.5]
p6_bands = [2.86, -1.61]
p7_bands = [2.48, -1.78]
p8_bands = [2.76, -2.24]

top_x_labels = ["wu2grp4$mc", "wu2grp4$mc", "wu2nonaod$mc", "wu2nonaod$mc"]
top_y_labels = ["predict(wu2g5wnls0.lis)", "predict(wu2g2mmnls4.List)",
                "predict(wu2g5weibnls0.lis)", "predict(wu2g5benls1.lis)"]
res_x_label = "Fitted values"
res_y_label = "Standardized residuals"

captions = [
    ["3-parameter", "monoexponential with", "offset", "(RSE=0.0355)"],
    ["3-parameter logistic", "with offset", "(RSE=0.0171)"],
    ["4-parameter", "stretched", "exponential", "(fractional growth)",
     "(RSE=0.0083, note", "two blocks were not", "fit with nlsList)"],
    ["5-parameter", "biexponential with", "offset (RSE=0.0066)"],
]
caption_rows = [[0, 1, 2, 3.15], [0, 1, 2], [0, 1, 2, 3, 4, 5, 6], [0, 1, 2]]

for a, b in [(p1_obs, p1_pred), (p2_obs, p2_pred), (p3_obs, p3_pred), (p4_obs, p4_pred),
             (p5_fit, p5_res), (p6_fit, p6_res), (p7_fit, p7_res), (p8_fit, p8_res)]:
    assert len(a) == len(b), (len(a), len(b))

# ---------------- layout helpers (pixel boxes -> paper domains) ----------------
W, H = 1115, 728


def px(x):
    return x / W


def py(y):
    return 1 - y / H


SANS = "Liberation Sans, Arial, sans-serif"
MONO = "Liberation Mono, Courier New, monospace"

top_panels = [
    dict(box=(36, 9, 257, 207), xr=[0.181, 1.035], yr=[0.219, 0.981],
         yt=[0.3, 0.4, 0.5, 0.6, 0.7, 0.8, 0.9], fs=7.5, tl=3, ms=5,
         xt_pos=(146, 232), yt_pos=(12, 108), tfs=7.5,
         data=(p1_obs, p1_pred)),
    dict(box=(334, 21, 548, 201), xr=[0.184, 1.04], yr=[0.191, 0.985],
         yt=[0.2, 0.4, 0.6, 0.8], fs=12, tl=4, ms=5.5,
         xt_pos=(441, 235), yt_pos=(302, 111), tfs=11.5,
         data=(p2_obs, p2_pred)),
    dict(box=(607, 13, 828, 194), xr=[0.196, 1.042], yr=[0.191, 0.984],
         yt=[0.2, 0.4, 0.6, 0.8], fs=6.5, tl=3, ms=4,
         xt_pos=(717, 215), yt_pos=(587, 104), tfs=6.5,
         data=(p3_obs, p3_pred)),
    dict(box=(889, 19, 1109, 191), xr=[0.128, 1.03], yr=[0.19, 1.034],
         yt=[0.2, 0.4, 0.6, 0.8, 1.0], fs=12, tl=4, ms=5,
         xt_pos=(999, 221), yt_pos=(860, 105), tfs=11,
         data=(p4_obs, p4_pred)),
]

res_panels = [
    dict(box=(30, 285, 257, 507), xr=[0.199, 0.993], yr=[-4.3, 2.99],
         xt=[0.2, 0.4, 0.6, 0.8], xl=["", "0.4", "0.6", "0.8"], yt=[-4, -2, 0, 2],
         bands=p5_bands, data=(p5_fit, p5_res), yt_pos=(12, 397)),
    dict(box=(318, 286, 549, 507), xr=[0.166, 1.028], yr=[-3.83, 5.07],
         xt=[0.2, 0.4, 0.6, 0.8, 1.0], xl=["0.2", "0.4", "0.6", "0.8", ""], yt=[-2, 0, 2, 4],
         bands=p6_bands, data=(p6_fit, p6_res), yt_pos=(300, 397)),
    dict(box=(602, 288, 831, 507), xr=[0.167, 1.006], yr=[-3.91, 4.57],
         xt=[0.2, 0.4, 0.6, 0.8, 1.0], xl=["0.2", "0.4", "0.6", "0.8", ""], yt=[-2, 0, 2, 4],
         bands=p7_bands, data=(p7_fit, p7_res), yt_pos=(585, 397)),
    dict(box=(889, 285, 1109, 499), xr=[0.164, 1.053], yr=[-4.72, 5.28],
         xt=[0.2, 0.4, 0.6, 0.8, 1.0], xl=["0.2", "0.4", "0.6", "0.8", "1.0"], yt=[-4, -2, 0, 2, 4],
         bands=p8_bands, data=(p8_fit, p8_res), yt_pos=(872, 392)),
]

fig = go.Figure()
layout = {}
annotations = []
shapes = []


def axis_names(i):
    return ("x" if i == 1 else f"x{i}", "y" if i == 1 else f"y{i}",
            "xaxis" if i == 1 else f"xaxis{i}", "yaxis" if i == 1 else f"yaxis{i}")


def label(text, x, y, size, family=SANS, angle=0, color="#333333", xanchor="center"):
    return dict(text=text, x=px(x), y=py(y), xref="paper", yref="paper",
                xanchor=xanchor, yanchor="middle", showarrow=False, textangle=angle,
                borderpad=0, font=dict(family=family, size=size, color=color))


# top row: base-graphics style observed vs predicted
for k, p in enumerate(top_panels):
    i = k + 1
    xa, ya, xkey, ykey = axis_names(i)
    x0, y0, x1, y1 = p["box"]
    obs, pred = p["data"]
    fig.add_trace(go.Scatter(x=identity_line, y=identity_line, mode="lines",
                             line=dict(color="#333333", width=1),
                             xaxis=xa, yaxis=ya, hoverinfo="skip", showlegend=False))
    fig.add_trace(go.Scatter(x=obs, y=pred, mode="markers", xaxis=xa, yaxis=ya,
                             marker=dict(symbol="circle-open", size=p["ms"],
                                         color="rgba(45,45,45,0.7)", line=dict(width=0.75)),
                             showlegend=False))
    common = dict(showline=True, mirror=True, linecolor="#3a3a3a", linewidth=1,
                  ticks="outside", ticklen=p["tl"], tickcolor="#3a3a3a", tickwidth=1,
                  showgrid=False, zeroline=False,
                  tickfont=dict(family=SANS, size=p["fs"], color="#333333"))
    layout[xkey] = dict(domain=[px(x0), px(x1)], range=p["xr"], anchor=ya,
                        tickvals=[0.2, 0.4, 0.6, 0.8, 1.0],
                        ticktext=["0.2", "0.4", "0.6", "0.8", "1.0"], **common)
    layout[ykey] = dict(domain=[py(y1), py(y0)], range=p["yr"], anchor=xa,
                        tickvals=p["yt"], ticktext=[f"{v:.1f}" for v in p["yt"]],
                        tickangle=-90, **common)
    annotations.append(label(top_x_labels[k], *p["xt_pos"], p["tfs"]))
    annotations.append(label(top_y_labels[k], *p["yt_pos"], p["tfs"], angle=-90))

# bottom row: lattice style residual plots
for k, p in enumerate(res_panels):
    i = k + 5
    xa, ya, xkey, ykey = axis_names(i)
    x0, y0, x1, y1 = p["box"]
    fit, res = p["data"]
    fig.add_trace(go.Scatter(x=fit, y=res, mode="markers", xaxis=xa, yaxis=ya,
                             marker=dict(symbol="circle", size=4,
                                         color="rgba(165,165,165,0.75)",
                                         line=dict(color="rgba(95,95,95,0.85)", width=0.6)),
                             showlegend=False))
    common = dict(showline=True, mirror="ticks", linecolor="#555555", linewidth=1,
                  ticks="outside", ticklen=4, tickcolor="#555555", tickwidth=1,
                  tickfont=dict(family=SANS, size=6.5, color="#444444"))
    layout[xkey] = dict(domain=[px(x0), px(x1)], range=p["xr"], anchor=ya,
                        tickvals=p["xt"], ticktext=p["xl"],
                        showgrid=True, gridcolor="#ededed", gridwidth=1,
                        zeroline=False, **common)
    layout[ykey] = dict(domain=[py(y1), py(y0)], range=p["yr"], anchor=xa,
                        tickvals=p["yt"], ticktext=[str(v) for v in p["yt"]],
                        showgrid=False, zeroline=True, zerolinecolor="#707070",
                        zerolinewidth=1.5, **common)
    for b in p["bands"]:
        shapes.append(dict(type="line", xref=f"{xa} domain", yref=ya, x0=0, x1=1,
                           y0=b, y1=b, layer="below",
                           line=dict(color="#ececec", width=1)))
    annotations.append(label(res_x_label, (x0 + x1) / 2, y1 + 20, 7))
    annotations.append(label(res_y_label, *p["yt_pos"], 7, angle=-90))

# model captions under each column
caption_x = [2, 271, 576, 834]
first_row_y, row_pitch = 551, 26.6
for col, lines in enumerate(captions):
    for line, row in zip(lines, caption_rows[col]):
        annotations.append(label(line, caption_x[col], first_row_y + row * row_pitch,
                                 21, family=MONO, color="#222222", xanchor="left"))

fig.update_layout(width=W, height=H, margin=dict(l=0, r=0, t=0, b=0),
                  paper_bgcolor="white", plot_bgcolor="white",
                  showlegend=False, annotations=annotations, shapes=shapes, **layout)

fig.write_html("out.html")
